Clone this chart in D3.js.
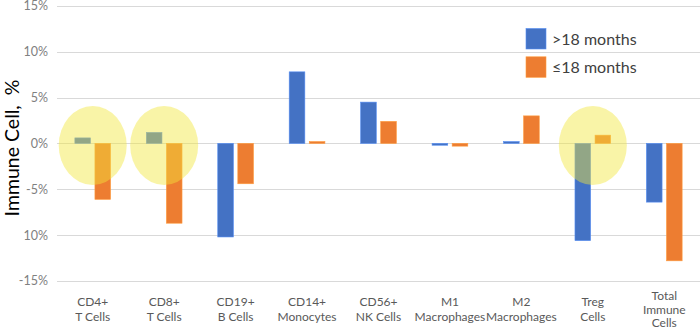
<!DOCTYPE html>
<html>
<head>
<meta charset="utf-8">
<script src="https://cdn.jsdelivr.net/npm/d3@7"></script>
<style>
  html, body { margin: 0; padding: 0; background: #fff; }
  svg { display: block; }
</style>
</head>
<body>
<svg id="chart" width="700" height="329"></svg>
<script>
// Change in immune cell fractions by survival group
const categories = [
  ["CD4+", "T Cells"],
  ["CD8+", "T Cells"],
  ["CD19+", "B Cells"],
  ["CD14+", "Monocytes"],
  ["CD56+", "NK Cells"],
  ["M1", "Macrophages"],
  ["M2", "Macrophages"],
  ["Treg", "Cells"],
  ["Total", "Immune", "Cells"]
];
const seriesNames = [">18 months", "≤18 months"];
const over18 = [0.6, 1.2, -10.2, 7.8, 4.5, -0.2, 0.2, -10.6, -6.4];
const upTo18 = [-6.1, -8.7, -4.4, 0.2, 2.4, -0.3, 3.0, 0.9, -12.8];
const tickValues = [15, 10, 5, 0, -5, -10, -15];
const tickLabels = ["15%", "10%", "5%", "0%", "-5%", "10%", "-15%"];
const highlighted = [0, 1, 7]; // category indices circled in yellow
const colors = ["#4472C4", "#ED7D31"];

const svg = d3.select("#chart");
const font = "Lato, 'Open Sans', sans-serif";

const keys = categories.map((c, i) => i);
const x = d3.scaleBand().domain(keys).range([57, 700]).padding(0);
const xInner = d3.scaleBand().domain([0, 1])
  .range([x.bandwidth() * 0.25, x.bandwidth() * 0.75]).paddingInner(0.22);
const y = d3.scaleLinear().domain([-15, 15]).range([281, 5.8]);

// gridlines
svg.append("g").selectAll("line").data(tickValues).join("line")
  .attr("x1", 57).attr("x2", 700)
  .attr("y1", d => Math.round(y(d)) + 0.5).attr("y2", d => Math.round(y(d)) + 0.5)
  .attr("stroke", "#d9d9d9").attr("stroke-width", 1);

// y tick labels
svg.append("g").selectAll("text").data(tickValues).join("text")
  .attr("x", 48).attr("y", d => y(d))
  .attr("dy", "0.35em")
  .attr("text-anchor", "end")
  .attr("font-family", font).attr("font-size", 12.5)
  .attr("fill", "#808080")
  .text((d, i) => tickLabels[i]);

// y axis title
svg.append("text")
  .attr("transform", "translate(18.5,148) rotate(-90)")
  .attr("text-anchor", "middle")
  .attr("font-family", font).attr("font-size", 19.5)
  .attr("fill", "#000")
  .text("Immune Cell,\u00A0\u00A0%");

// bars
const values = [over18, upTo18];
const groups = svg.append("g").selectAll("g").data(keys).join("g")
  .attr("transform", d => `translate(${x(d)},0)`);
groups.selectAll("rect").data(i => values.map((v, s) => ({ s, v: v[i] }))).join("rect")
  .attr("x", d => xInner(d.s))
  .attr("width", xInner.bandwidth())
  .attr("y", d => y(Math.max(0, d.v)))
  .attr("height", d => Math.abs(y(d.v) - y(0)))
  .attr("fill", d => colors[d.s])
  .attr("stroke", d => d3.color(colors[d.s]).brighter(0.6))
  .attr("stroke-width", 0.6);

// category labels
const labels = svg.append("g").selectAll("text").data(keys).join("text")
  .attr("x", d => x(d) + x.bandwidth() / 2)
  .attr("y", d => categories[d].length === 3 ? 300 : 305.5)
  .attr("text-anchor", "middle")
  .attr("font-family", font).attr("font-size", 12)
  .attr("fill", "#595959");
labels.selectAll("tspan").data(d => categories[d]).join("tspan")
  .attr("x", function () { return this.parentNode.getAttribute("x"); })
  .attr("dy", (d, i, n) => i === 0 ? 0 : (n.length === 3 ? 13.6 : 15.5))
  .text(d => d);

// yellow highlight ellipses
svg.append("g").selectAll("ellipse").data(highlighted).join("ellipse")
  .attr("cx", d => x(d) + x.bandwidth() / 2)
  .attr("cy", y(0) + 2)
  .attr("rx", 34)
  .attr("ry", 39.5)
  .attr("fill", "rgb(242,230,60)")
  .attr("fill-opacity", 0.45);

// legend
const legend = svg.append("g").selectAll("g").data(seriesNames).join("g")
  .attr("transform", (d, i) => `translate(526,${28.5 + i * 28.3})`);
legend.append("rect")
  .attr("width", 20).attr("height", 20.5)
  .attr("fill", (d, i) => colors[i])
  .attr("stroke", (d, i) => d3.color(colors[i]).brighter(0.6))
  .attr("stroke-width", 0.6);
legend.append("text")
  .attr("x", 26).attr("y", 10.5).attr("dy", "0.35em")
  .attr("font-family", font).attr("font-size", 16)
  .attr("fill", "#404040")
  .text(d => d);
</script>
</body>
</html>
